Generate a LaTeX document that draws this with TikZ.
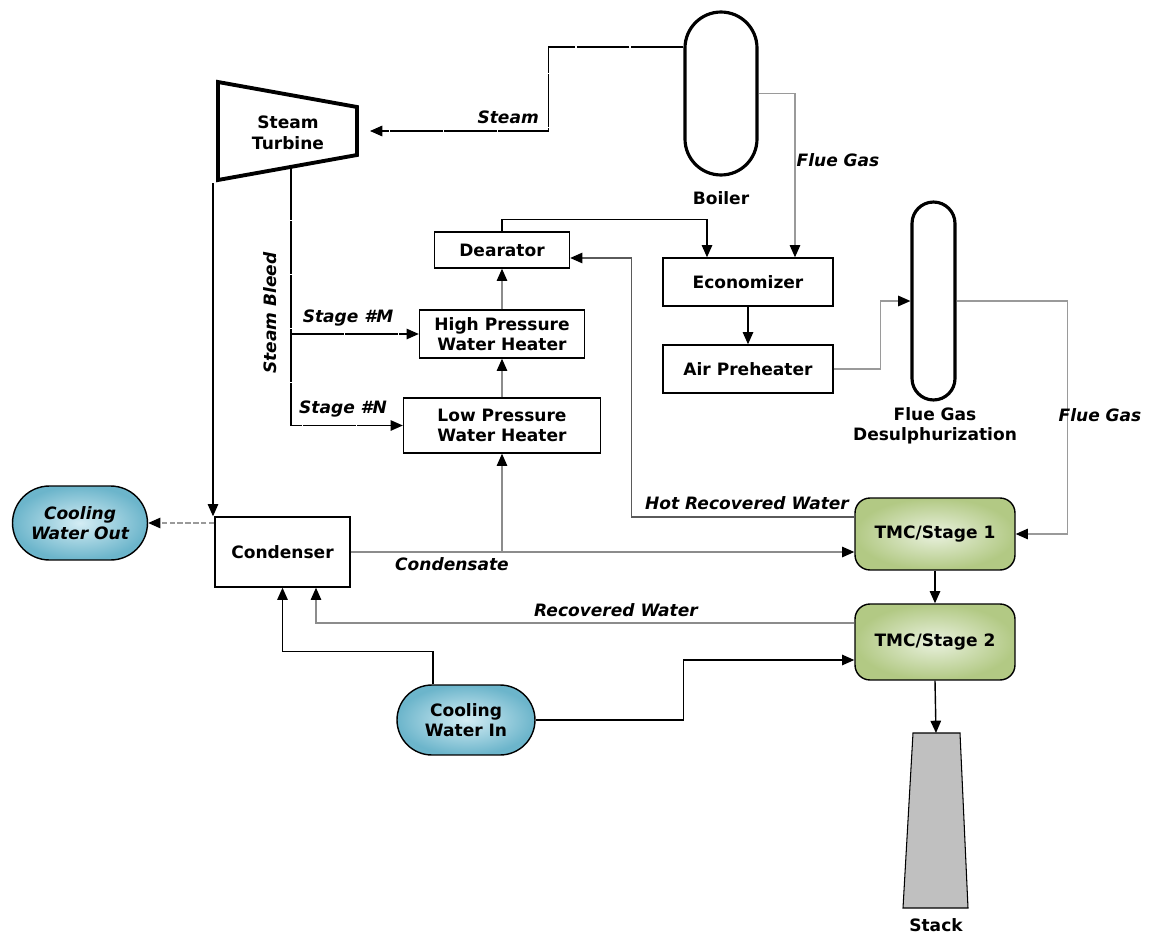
\documentclass[tikz,border=0pt]{standalone}
\usepackage{fontspec}
\setmainfont{DejaVu Sans}
\usetikzlibrary{arrows.meta,shapes.misc}
\definecolor{gasgray}{HTML}{9A9A9A}
\definecolor{wtrgray}{HTML}{8C8C8C}
\definecolor{hotgray}{HTML}{5A5A5A}
\definecolor{cwlight}{HTML}{D4EDF4}
\definecolor{cwdark}{HTML}{6CB5CB}
\definecolor{tmclight}{HTML}{E9F1DE}
\definecolor{tmcdark}{HTML}{B2C984}
\definecolor{stackgray}{HTML}{C0C0C0}

\begin{document}
\begin{tikzpicture}[x=0.02cm, y=-0.02cm,
    >={Triangle[width=6pt,length=7pt,color=black]},
    every node/.style={font=\fontsize{9.7}{11.7}\selectfont\bfseries, align=center},
    unit/.style={draw, line width=0.8pt, inner sep=0pt},
    vessel/.style={draw, line width=1.8pt, inner sep=0pt},
    cw/.style={unit, rounded rectangle, inner color=cwlight, outer color=cwdark},
    tmc/.style={unit, rounded corners=0.3cm, inner color=tmclight, outer color=tmcdark},
    lbl/.style={font=\fontsize{9.7}{11.7}\selectfont\bfseries\itshape},
    pipe/.style={line width=0.8pt, ->},
    steamln/.style={pipe, dash pattern=on 30pt off 0.8pt},
    gas/.style={pipe, gasgray},
    water/.style={pipe, wtrgray}]
  \useasboundingbox (0,0) rectangle (1150,936);

  \draw[line width=2.2pt] (218,82) -- (357,107) -- (357,155) -- (218,180) -- cycle;
  \node (turb) at (288,133) {Steam\\Turbine};
  \coordinate (turbin) at (370,131);
  \coordinate (bleedtop) at (291,167);
  \coordinate (exh) at (213,183);

  \node[vessel, rounded corners=0.72cm, minimum width=1.44cm, minimum height=3.26cm] (boiler) at (721,93.5) {};
  \node (boilerlbl) at (721,198) {Boiler};
  \node[vessel, rounded corners=0.43cm, minimum width=0.86cm, minimum height=3.96cm] (fgd) at (933.5,301) {};
  \node (fgdlbl) at (935,426) {Flue Gas\\Desulphurization};

  \node[unit, minimum width=2.7cm, minimum height=0.72cm] (dear) at (502,250) {Dearator};
  \node[unit, minimum width=3.3cm, minimum height=0.96cm] (hpwh) at (502,334) {High Pressure\\Water Heater};
  \node[unit, minimum width=3.94cm, minimum height=1.1cm] (lpwh) at (502,425.5) {Low Pressure\\Water Heater};
  \node[unit, minimum width=3.4cm, minimum height=0.96cm] (econ) at (748,282) {Economizer};
  \node[unit, minimum width=3.4cm, minimum height=0.96cm] (airph) at (748,369) {Air Preheater};
  \node[unit, minimum width=2.7cm, minimum height=1.4cm] (cond) at (282.5,552) {Condenser};
  \node[tmc, minimum width=3.2cm, minimum height=1.44cm] (tmc1) at (935,534) {TMC/Stage 1};
  \node[tmc, minimum width=3.2cm, minimum height=1.52cm] (tmc2) at (935,642) {TMC/Stage 2};
  \node[cw, lbl, minimum width=2.7cm, minimum height=1.48cm] (cwout) at (80,523) {Cooling\\Water Out};
  \node[cw, minimum width=2.76cm, minimum height=1.4cm] (cwin) at (466,720) {Cooling\\Water In};

  \draw[fill=stackgray, line width=0.6pt] (913,733) -- (960,733) -- (968,908) -- (903,908) -- cycle;
  \coordinate (stacktop) at (936,733);
  \node (stacklbl) at (936,925) {Stack};

  \draw[steamln] ([yshift=0.93cm]boiler.west) -- ++(-135,0) |- (turbin);
  \node[lbl, anchor=east] at (545,117) {Steam};
  \draw[gas] (boiler.east) -| ([xshift=0.94cm]econ.north);
  \node[lbl] at (838,160) {Flue Gas};
  \draw[pipe] (dear.north) -- ++(0,-12) -| ([xshift=-0.82cm]econ.north);
  \draw[pipe] (econ.south) -- (airph.north);
  \draw[gas] (airph.east) -- ++(47,0) |- (fgd.west);
  \draw[gas] (fgd.east) -- ++(111,0) |- (tmc1.east);
  \node[lbl] at (1100,415) {Flue Gas};

  \draw[steamln] (bleedtop) |- (lpwh.west);
  \draw[steamln] (hpwh.west -| bleedtop) -- (hpwh.west);
  \node[lbl] at (348,318) {Stage \#M};
  \node[lbl] at (343,409) {Stage \#N};
  \node[lbl, rotate=90] at (270,313) {Steam Bleed};
  \draw[water] (lpwh.north) -- (hpwh.south);
  \draw[water] (hpwh.north) -- (dear.south);

  \draw[pipe] (exh) -- (exh |- cond.north);
  \draw[pipe, gasgray, dash pattern=on 3pt off 1.5pt] (cond.north west |- cwout.east) -- (cwout.east);

  \draw[water] (cond.east) -- (cond.east -| tmc1.west);
  \draw[water] (cond.east -| lpwh.south) -- (lpwh.south);
  \node[lbl] at (452,564) {Condensate};
  \draw[pipe, hotgray] ([yshift=0.34cm]tmc1.west) -- ++(-223,0) |- ([yshift=-0.16cm]dear.east);
  \node[lbl] at (747,503) {Hot Recovered Water};
  \draw[pipe] (tmc1.south) -- (tmc2.north);
  \draw[water] ([yshift=0.38cm]tmc2.west) -| ([xshift=0.67cm]cond.south);
  \node[lbl] at (616,610) {Recovered Water};
  \draw[pipe] ([xshift=-0.66cm]cwin.north) -- ++(0,-33) -| (cond.south);
  \draw[pipe] (cwin.east) -- ++(148,0) |- ([yshift=-0.36cm]tmc2.west);
  \draw[pipe] (tmc2.south) -- (stacktop);
\end{tikzpicture}
\end{document}
